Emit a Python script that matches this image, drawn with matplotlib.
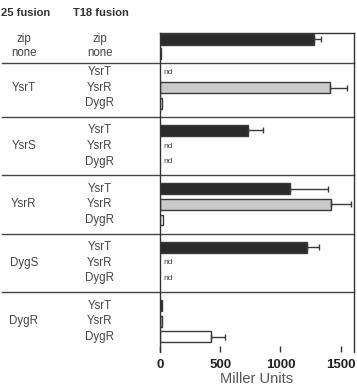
import matplotlib
matplotlib.use('Agg')
import matplotlib.pyplot as plt

plt.rcParams['font.family'] = ['Liberation Sans', 'DejaVu Sans']

# data: T25 fusion (bait) groups, T18 fusion (prey) rows, Miller units (None = nd)
t25_groups = ['zip', 'YsrT', 'YsrS', 'YsrR', 'DygS', 'DygR']
t18_rows = [['zip', 'none'],
            ['YsrT', 'YsrR', 'DygR'],
            ['YsrT', 'YsrR', 'DygR'],
            ['YsrT', 'YsrR', 'DygR'],
            ['YsrT', 'YsrR', 'DygR'],
            ['YsrT', 'YsrR', 'DygR']]
values = [[1278, 12],
          [None, 1408, 19],
          [728, None, None],
          [1083, 1417, 28],
          [1217, None, None],
          [13, 14, 422]]
errors = [[61, 0],
          [0, 148, 0],
          [125, 0, 0],
          [314, 169, 0],
          [102, 0, 0],
          [0, 0, 120]]

colors = {'zip': '#2b2b2b', 'none': 'white', 'YsrT': '#2b2b2b',
          'YsrR': '#c9c9c9', 'DygR': 'white'}
edge = '#3a3a3a'
text_col = '#444444'

fig = plt.figure(figsize=(3.57, 3.88), dpi=100)
ax = fig.add_axes([0.448, 0.0928, 0.5434, 0.822])

# row layout
pos = []
seps = []
y = 0.0
for gi, rows in enumerate(t18_rows):
    step = 0.9 if gi == 0 else 1.0
    grp = []
    for r in rows:
        grp.append(y)
        y += step
    pos.append(grp)
    y = grp[-1] + (1.22 if gi == 0 else 1.74)
    if gi < len(t18_rows) - 1:
        seps.append((grp[-1] + y) / 2)

tr = ax.get_yaxis_transform()
for gi, rows in enumerate(t18_rows):
    for ri, name in enumerate(rows):
        yy = pos[gi][ri]
        v = values[gi][ri]
        if v is None:
            ax.text(25, yy, 'nd', fontsize=6, color=text_col, va='center', ha='left')
        else:
            ax.barh(yy, v, height=0.7, color=colors[name], edgecolor=edge, linewidth=1)
            if errors[gi][ri] > 0:
                ax.errorbar(v, yy, xerr=[[0], [errors[gi][ri]]], fmt='none',
                            ecolor=edge, elinewidth=1, capsize=2.5, capthick=1)
        ax.text(-0.309, yy, name, transform=tr, fontsize=8.3, color=text_col,
                ha='center', va='center')
    if gi == 0:
        ax.text(-0.701, pos[0][0], 'zip', transform=tr, fontsize=8.3, color=text_col,
                ha='center', va='center')
        ax.text(-0.701, pos[0][1], 'none', transform=tr, fontsize=8.3, color=text_col,
                ha='center', va='center')
    else:
        ax.text(-0.701, pos[gi][1], t25_groups[gi], transform=tr, fontsize=8.3,
                color=text_col, ha='center', va='center')

for s in seps:
    ax.plot([-0.815, 1], [s, s], transform=tr, color='#444444', lw=1, clip_on=False)

ax.set_ylim(20.06, -0.385)
ax.set_xlim(0, 1610)
ax.set_yticks([])
ax.set_xticks([0, 500, 1000, 1500])
ax.tick_params(axis='x', direction='in', length=4, width=1, color='#333333',
               labelsize=9.5, labelcolor='#222222', pad=5)
for lab in ax.get_xticklabels():
    lab.set_fontweight('bold')
ax.spines['bottom'].set_visible(False)
for s in ['left', 'right', 'top']:
    ax.spines[s].set_color('#333333')
    ax.spines[s].set_linewidth(1)
ax.set_xlabel('Miller Units', fontsize=10.5, color='#555555', labelpad=1)

fig.text(1 / 357, 1 - 13 / 388, '25 fusion', fontsize=8, fontweight='bold',
         color='#333333', ha='left', va='center')
fig.text(101 / 357, 1 - 13 / 388, 'T18 fusion', fontsize=8, fontweight='bold',
         color='#333333', ha='center', va='center')

fig.savefig('out.png', dpi=100)
